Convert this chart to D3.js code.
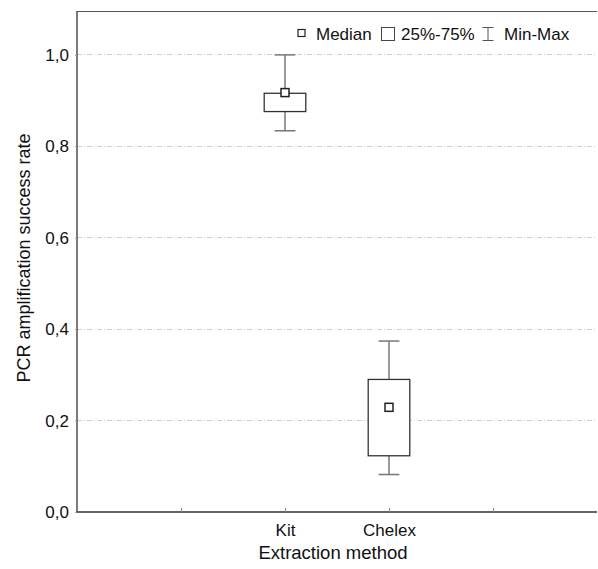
<!DOCTYPE html>
<html><head><meta charset="utf-8">
<script src="https://cdn.jsdelivr.net/npm/d3@7"></script>
<style>body{margin:0;background:#fff}svg{display:block}text{font-family:"Liberation Sans",Arial,sans-serif}</style>
</head><body>
<svg id="c" width="598" height="569"></svg>
<script>
const categories = ["Kit", "Chelex"];
const categoryPos = [2, 3];
const mins = [0.834, 0.082];
const q1s = [0.876, 0.123];
const medians = [0.9175, 0.229];
const q3s = [0.916, 0.290];
const maxs = [1.0, 0.374];
const yTicks = [0, 0.2, 0.4, 0.6, 0.8, 1.0];
const xTicks = [1, 2, 3, 4];
const xTickLabels = ["", "Kit", "Chelex", ""];
const legendItems = ["Median", "25%-75%", "Min-Max"];

const svg = d3.select("#c");
const L = 77, R = 597, T = 11, B = 512;
const x = d3.scaleLinear().domain([0, 5]).range([L, R]);
const y = d3.scaleLinear().domain([0, 1.096]).range([B, T]);
const fmt = d => d3.format(".1f")(d).replace(".", ",");
const FF = "Liberation Sans, Arial, sans-serif";

// grid
svg.append("g").selectAll("line").data(yTicks.filter(d => d > 0)).join("line")
  .attr("x1", L).attr("x2", R).attr("y1", d => y(d)).attr("y2", d => y(d))
  .attr("stroke", "#cfcfcf").attr("stroke-width", 1).attr("stroke-dasharray", "5,2,1,2")
  .attr("shape-rendering", "crispEdges");

// frame top
svg.append("line").attr("x1", L).attr("x2", R).attr("y1", T + 0.5).attr("y2", T + 0.5)
  .attr("stroke", "#555").attr("stroke-width", 1.2);

// y axis
const ya = svg.append("g").attr("transform", `translate(${L},0)`)
  .call(d3.axisLeft(y).tickValues(yTicks).tickFormat(fmt).tickSize(2).tickPadding(6));
ya.select(".domain").attr("stroke", "#333").attr("stroke-width", 1.3).attr("d", `M0,${T}V${B}`);
ya.selectAll(".tick line").attr("stroke", "#999");
ya.selectAll("text").attr("font-size", 17).attr("fill", "#111").attr("font-family", FF);

// x axis
const xa = svg.append("g").attr("transform", `translate(0,${B})`)
  .call(d3.axisBottom(x).tickValues(xTicks).tickFormat((d, i) => xTickLabels[i]).tickSize(-4).tickPadding(12));
xa.select(".domain").attr("stroke", "#333").attr("stroke-width", 1.3).attr("d", `M${L},0H${R}`);
xa.selectAll(".tick line").attr("stroke", "#888");
xa.selectAll("text").attr("font-size", 17).attr("fill", "#111").attr("font-family", FF);

// titles
svg.append("text").attr("x", 333).attr("y", 559).attr("text-anchor", "middle")
  .attr("font-size", 18.5).attr("fill", "#111").text("Extraction method");
svg.append("text").attr("transform", `translate(30,258) rotate(-90)`)
  .attr("text-anchor", "middle").attr("font-size", 18).attr("fill", "#111").text("PCR amplification success rate");

// boxes
const boxW = x(0.2) - x(0), capW = x(0.1) - x(0);
const g = svg.append("g");
categories.forEach((c, i) => {
  const cx = x(categoryPos[i]);
  g.append("line").attr("x1", cx).attr("x2", cx).attr("y1", y(maxs[i])).attr("y2", y(q3s[i])).attr("stroke", "#777").attr("stroke-width", 1.5);
  g.append("line").attr("x1", cx).attr("x2", cx).attr("y1", y(q1s[i])).attr("y2", y(mins[i])).attr("stroke", "#777").attr("stroke-width", 1.5);
  g.append("line").attr("x1", cx - capW).attr("x2", cx + capW).attr("y1", y(maxs[i])).attr("y2", y(maxs[i])).attr("stroke", "#777").attr("stroke-width", 1.5);
  g.append("line").attr("x1", cx - capW).attr("x2", cx + capW).attr("y1", y(mins[i])).attr("y2", y(mins[i])).attr("stroke", "#777").attr("stroke-width", 1.5);
  g.append("rect").attr("x", cx - boxW).attr("width", 2 * boxW)
    .attr("y", y(q3s[i])).attr("height", y(q1s[i]) - y(q3s[i]))
    .attr("fill", "#fff").attr("stroke", "#333").attr("stroke-width", 1.3);
  g.append("rect").attr("x", cx - 4).attr("y", y(medians[i]) - 4).attr("width", 8).attr("height", 8)
    .attr("fill", "#fff").attr("stroke", "#222").attr("stroke-width", 1.5);
});

// legend
const lg = svg.append("g").attr("font-size", 17).attr("fill", "#111").attr("font-family", FF);
lg.append("rect").attr("x", 298).attr("y", 29.5).attr("width", 7).attr("height", 7).attr("fill", "#fff").attr("stroke", "#222").attr("stroke-width", 1.2);
lg.append("text").attr("x", 316).attr("y", 40).text(legendItems[0]);
lg.append("rect").attr("x", 381.5).attr("y", 27.5).attr("width", 13).attr("height", 13).attr("fill", "#fff").attr("stroke", "#444").attr("stroke-width", 1);
lg.append("text").attr("x", 401).attr("y", 40).text(legendItems[1]);
const ix = 488;
lg.append("path").attr("d", `M${ix - 5.5},27.5H${ix + 5.5}M${ix},27.5V40.5M${ix - 5.5},40.5H${ix + 5.5}`).attr("stroke", "#555").attr("stroke-width", 1).attr("fill", "none");
lg.append("text").attr("x", 504).attr("y", 40).text(legendItems[2]);
</script>
</body></html>
